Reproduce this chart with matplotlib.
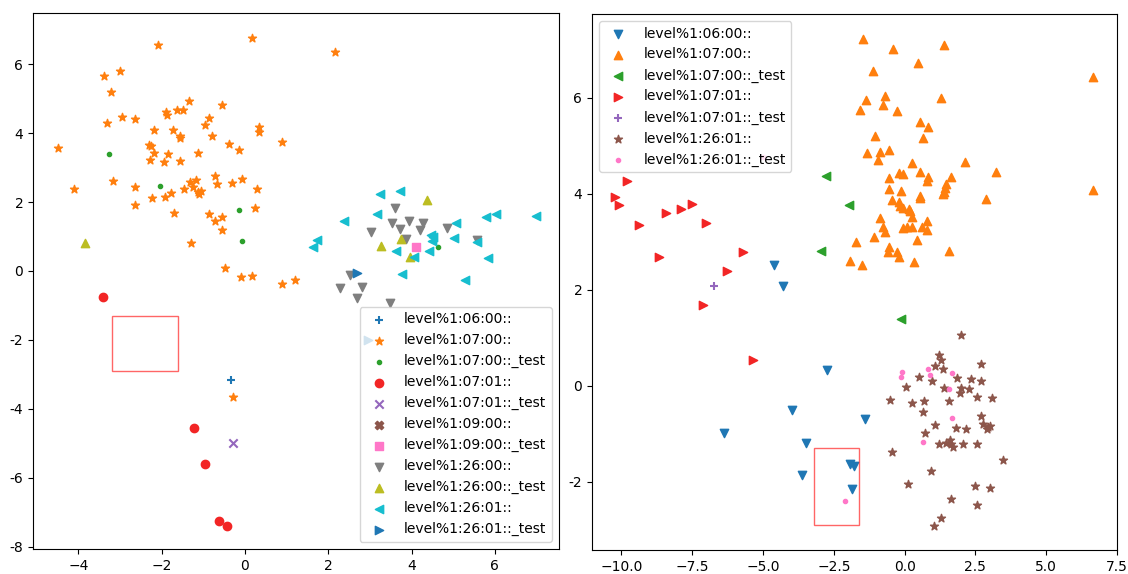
import matplotlib
matplotlib.use("Agg")
import matplotlib.pyplot as plt
from matplotlib.patches import Rectangle

# ---------------- Left panel data ----------------
L_labels = ["level%1:06:00::", "level%1:07:00::", "level%1:07:00::_test",
            "level%1:07:01::", "level%1:07:01::_test", "level%1:09:00::",
            "level%1:09:00::_test", "level%1:26:00::", "level%1:26:00::_test",
            "level%1:26:01::", "level%1:26:01::_test"]
L_markers = ['+', '*', '.', 'o', 'x', 'X', 's', 'v', '^', '<', '>']
L_colors = ['#1f77b4', '#ff7f0e', '#2ca02c', '#f22525', '#9467bd', '#8c564b',
            '#ff77c8', '#7f7f7f', '#bcbd22', '#17becf', '#1f77b4']

L_06_00_x = [-0.34]
L_06_00_y = [-3.17]

L_07_00_x = [-4.50, -4.10, -3.38, -3.00, -3.22, -3.32, -2.95, -2.63, -3.17, -2.63,
             -2.65, -2.10, 0.18, 2.15, -1.90, -1.88, -1.64, -1.50, -1.34, -0.54,
             -0.87, -0.97, -2.18, -1.72, -1.56, -1.57, -0.79, 0.34, 0.33, 0.90,
             -2.31, -2.26, -2.19, -2.29, -1.86, -1.94, -1.55, -1.14, -0.38, -0.14,
             -2.23, -1.91, -1.77, -1.46, -1.70, -1.31, -1.18, -1.26, -1.12, -1.06,
             -1.10, -0.72, -0.66, -0.30, -0.07, 0.29, -0.86, -0.72, -0.54, -0.54,
             0.25, -1.30, -0.47, -0.10, 0.18, 0.88, 1.21, -0.28]
L_07_00_y = [3.57, 2.37, 5.65, 5.80, 5.19, 4.30, 4.47, 4.41, 2.60, 2.43,
             1.91, 6.55, 6.75, 6.35, 4.62, 4.52, 4.68, 4.68, 4.94, 4.82,
             4.43, 4.24, 4.10, 4.08, 3.90, 3.86, 3.90, 4.17, 4.04, 3.75,
             3.64, 3.61, 3.41, 3.21, 3.38, 3.17, 3.18, 3.41, 3.68, 3.50,
             2.12, 2.14, 2.27, 2.37, 1.69, 2.59, 2.63, 2.44, 2.30, 2.32,
             2.23, 2.75, 2.52, 2.55, 2.67, 2.38, 1.66, 1.46, 1.56, 1.19,
             1.83, 0.81, 0.10, -0.18, -0.15, -0.39, -0.25, -3.66]

L_07_00t_x = [-3.27, -2.03, -0.14, -0.06, 4.64]
L_07_00t_y = [3.40, 2.45, 1.76, 0.87, 0.69]

L_07_01_x = [-3.42, -1.22, -0.95, -0.62, -0.42]
L_07_01_y = [-0.74, -4.56, -5.59, -7.26, -7.38]

L_07_01t_x = [-0.28]
L_07_01t_y = [-5.00]

L_09_00_x = []
L_09_00_y = []

L_09_00t_x = [4.10]
L_09_00t_y = [0.69]

L_26_00_x = [3.60, 3.54, 3.94, 4.27, 4.20, 3.72, 3.02, 3.86, 4.85, 5.58,
             2.51, 2.29, 2.82, 2.70, 3.49]
L_26_00_y = [1.84, 1.38, 1.45, 1.38, 1.19, 1.22, 1.14, 0.93, 1.24, 0.90,
             -0.13, -0.50, -0.45, -0.78, -0.94]

L_26_00t_x = [-3.83, 4.36, 3.26, 3.74, 3.96]
L_26_00t_y = [0.82, 2.06, 0.72, 0.92, 0.40]

L_26_01_x = [3.25, 3.72, 3.16, 2.38, 1.74, 1.63, 4.46, 4.52, 4.50, 5.06,
             5.02, 5.79, 6.02, 6.98, 5.56, 5.83, 3.63, 4.42, 4.05, 3.77, 5.29]
L_26_01_y = [2.22, 2.31, 1.64, 1.44, 0.89, 0.69, 1.04, 0.98, 0.86, 1.38,
             0.95, 1.57, 1.64, 1.60, 0.84, 0.38, 0.57, 0.58, 0.41, -0.09, -0.26]

L_26_01t_x = [2.70, 2.95]
L_26_01t_y = [-0.07, -2.00]

L_xs = [L_06_00_x, L_07_00_x, L_07_00t_x, L_07_01_x, L_07_01t_x, L_09_00_x,
        L_09_00t_x, L_26_00_x, L_26_00t_x, L_26_01_x, L_26_01t_x]
L_ys = [L_06_00_y, L_07_00_y, L_07_00t_y, L_07_01_y, L_07_01t_y, L_09_00_y,
        L_09_00t_y, L_26_00_y, L_26_00t_y, L_26_01_y, L_26_01t_y]

# ---------------- Right panel data ----------------
R_labels = ["level%1:06:00::", "level%1:07:00::", "level%1:07:00::_test",
            "level%1:07:01::", "level%1:07:01::_test", "level%1:26:01::",
            "level%1:26:01::_test"]
R_markers = ['v', '^', '<', '>', '+', '*', '.']
R_colors = ['#1f77b4', '#ff7f0e', '#2ca02c', '#f22525', '#9467bd', '#8c564b', '#ff77c8']

R_06_00_x = [-4.61, -4.31, -2.73, -3.99, -1.39, -6.38, -3.49, -3.61, -1.92, -1.80, -1.87]
R_06_00_y = [2.51, 2.09, 0.33, -0.50, -0.68, -0.99, -1.19, -1.86, -1.63, -1.67, -2.15]

R_07_00_x = [-1.46, -0.40, 1.38, 0.47, -1.10, 6.64, 6.64, -1.35, -0.68, -0.75,
             -1.56, -0.27, 1.28, 0.54, 0.82, 0.65, -1.03, -1.32, -0.87, -0.55,
             -0.93, 0.27, 2.13, 3.24, -0.21, -0.06, 0.54, -0.55, 0.82, 0.80,
             1.63, 1.47, 1.42, 1.38, 1.35, -0.55, -0.12, 0.54, 0.54, 2.86,
             -0.45, -0.21, -0.18, -0.04, 0.14, 0.18, 0.27, -0.86, -0.75, -0.68,
             -0.06, 0.08, 0.25, 0.60, 0.78, 0.79, -1.07, 0.43, -1.70, -0.55,
             -0.58, -0.27, -0.20, 1.55, -1.92, -1.49, 0.33]
R_07_00_y = [7.22, 7.03, 7.10, 6.73, 6.56, 6.43, 4.08, 5.96, 6.04, 5.85,
             5.75, 5.73, 6.00, 5.50, 5.40, 5.17, 5.21, 4.86, 4.88, 4.92,
             4.71, 4.65, 4.67, 4.45, 4.44, 4.41, 4.46, 4.34, 4.35, 4.26,
             4.36, 4.20, 4.12, 4.05, 4.00, 4.10, 4.07, 3.96, 3.91, 3.90,
             3.87, 3.83, 3.74, 3.71, 3.69, 3.65, 3.52, 3.49, 3.32, 3.20,
             3.30, 3.31, 3.32, 3.32, 3.43, 3.24, 3.11, 3.03, 2.99, 2.90,
             2.79, 2.78, 2.69, 2.81, 2.60, 2.51, 2.58]

R_07_00t_x = [-2.79, -1.98, -2.96, -0.14]
R_07_00t_y = [4.38, 3.76, 2.81, 1.40]

R_07_01_x = [-9.82, -10.23, -10.10, -9.37, -8.41, -7.89, -7.50, -7.02, -8.67, -5.69,
             -6.29, -7.11, -5.36]
R_07_01_y = [4.26, 3.93, 3.76, 3.35, 3.60, 3.68, 3.79, 3.40, 2.69, 2.79,
             2.40, 1.69, 0.53]

R_07_01t_x = [-6.73]
R_07_01t_y = [2.08]

R_26_01_x = [1.99, 1.21, 1.29, 1.07, 1.35, 2.68, 0.51, 0.96, 1.84, 2.33,
             2.68, 0.05, 1.38, 1.99, 1.95, 2.29, 2.55, 3.09, -0.52, 0.25,
             0.68, 1.56, 0.65, 2.68, 1.07, 1.80, 2.15, 2.77, 2.94, 2.92,
             3.00, 0.72, 1.23, 1.47, 1.62, 1.65, 1.70, 2.06, 2.55, -0.43,
             3.49, 0.94, 0.12, 2.47, 3.00, 1.65, 2.55, 1.28, 1.03]
R_26_01_y = [1.06, 0.65, 0.54, 0.42, 0.35, 0.46, 0.18, 0.10, 0.16, 0.15,
             0.10, -0.03, -0.05, -0.05, -0.15, -0.07, -0.23, -0.25, -0.29, -0.36,
             -0.32, -0.31, -0.54, -0.63, -0.82, -0.87, -0.90, -0.79, -0.85, -0.90,
             -0.83, -0.99, -1.21, -1.18, -1.12, -1.21, -1.28, -1.21, -1.22, -1.37,
             -1.54, -1.78, -2.05, -2.08, -2.12, -2.35, -2.49, -2.75, -2.93]

R_26_01t_x = [-2.09, -0.09, -0.13, 0.81, 0.89, 1.67, 1.56, 1.69, 0.65, -5.00]
R_26_01t_y = [-2.39, 0.29, 0.18, 0.35, 0.22, 0.26, -0.07, -0.67, -1.17, 4.78]

R_xs = [R_06_00_x, R_07_00_x, R_07_00t_x, R_07_01_x, R_07_01t_x, R_26_01_x, R_26_01t_x]
R_ys = [R_06_00_y, R_07_00_y, R_07_00t_y, R_07_01_y, R_07_01t_y, R_26_01_y, R_26_01t_y]

# Highlight box (same in both panels)
box_x, box_y, box_w, box_h = -3.2, -2.9, 1.6, 1.6

L_yticks = [-8, -6, -4, -2, 0, 2, 4, 6]
R_yticks = [-2, 0, 2, 4, 6]
R_xticks = [-10.0, -7.5, -5.0, -2.5, 0.0, 2.5, 5.0, 7.5]

fig = plt.figure(figsize=(11.28, 5.74), dpi=100)
axL = fig.add_axes([33/1128, 1-549/574, 526/1128, 536/574])
axR = fig.add_axes([592/1128, 1-550/574, 525/1128, 536/574])

for xs, ys, lab, m, c in zip(L_xs, L_ys, L_labels, L_markers, L_colors):
    axL.scatter(xs, ys, marker=m, color=c, label=lab)
axL.add_patch(Rectangle((box_x, box_y), box_w, box_h, fill=False,
                        edgecolor='red', alpha=0.6, lw=1))
axL.set_xlim(-5.09, 7.54)
axL.set_ylim(-8.06, 7.48)
axL.set_yticks(L_yticks)
axL.set_yticklabels([str(v) for v in L_yticks])
axL.legend(loc='lower right')

for xs, ys, lab, m, c in zip(R_xs, R_ys, R_labels, R_markers, R_colors):
    axR.scatter(xs, ys, marker=m, color=c, label=lab)
axR.add_patch(Rectangle((box_x, box_y), box_w, box_h, fill=False,
                        edgecolor='red', alpha=0.6, lw=1))
axR.set_xlim(-11.04, 7.48)
axR.set_ylim(-3.42, 7.75)
axR.set_xticks(R_xticks)
axR.set_yticks(R_yticks)
axR.set_yticklabels([str(v) for v in R_yticks])
axR.legend(loc='upper left')

fig.savefig("out.png", dpi=100)
